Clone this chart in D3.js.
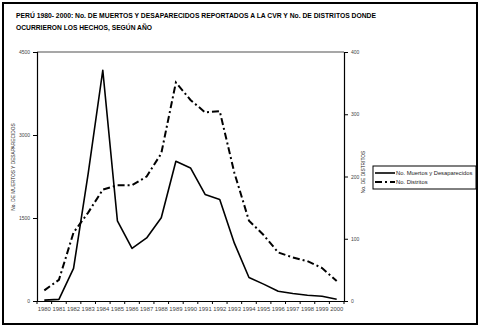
<!DOCTYPE html>
<html>
<head>
<meta charset="utf-8">
<script src="https://cdn.jsdelivr.net/npm/d3@7"></script>
<style>
  html, body { margin: 0; padding: 0; background: #fff; }
  svg text { font-family: "Liberation Sans", Arial, sans-serif; }
</style>
</head>
<body>
<svg id="chart" width="482" height="328"></svg>
<script>
// Años del periodo
const years = [1980, 1981, 1982, 1983, 1984, 1985, 1986, 1987, 1988, 1989, 1990,
               1991, 1992, 1993, 1994, 1995, 1996, 1997, 1998, 1999, 2000];
// No. de muertos y desaparecidos reportados a la CVR (eje izquierdo)
const muertos = [15, 30, 590, 2300, 4170, 1450, 950, 1140, 1505, 2525, 2405,
                 1925, 1835, 1045, 425, 305, 175, 135, 105, 85, 30];
// No. de distritos donde ocurrieron los hechos (eje derecho)
const distritos = [17, 34, 110, 142, 179, 186, 186, 200, 237, 351, 323,
                   303, 305, 206, 129, 106, 78, 70, 64, 53, 32];
const leftTicks = [0, 1500, 3000, 4500];
const rightTicks = [0, 100, 200, 300, 400];
const titleLines = [
  "PERÚ 1980- 2000: No. DE MUERTOS Y DESAPARECIDOS REPORTADOS A LA CVR Y No. DE DISTRITOS DONDE",
  "OCURRIERON LOS HECHOS, SEGÚN AÑO"
];
const seriesNames = ["No. Muertos y Desaparecidos", "No. Distritos"];

const svg = d3.select("#chart");
const plot = { left: 37, right: 344, top: 52, bottom: 301 };

// Marco exterior
svg.append("rect")
  .attr("x", 3).attr("y", 3).attr("width", 474).attr("height", 321)
  .attr("fill", "none").attr("stroke", "#000").attr("stroke-width", 2);

// Título
svg.append("text").attr("x", 16).attr("y", 18)
  .attr("font-size", 7.4).attr("font-weight", "bold")
  .attr("textLength", 360).attr("lengthAdjust", "spacingAndGlyphs")
  .text(titleLines[0]);
svg.append("text").attr("x", 16).attr("y", 30)
  .attr("font-size", 7.4).attr("font-weight", "bold")
  .attr("textLength", 136).attr("lengthAdjust", "spacingAndGlyphs")
  .text(titleLines[1]);

const x = d3.scaleBand().domain(years).range([plot.left, plot.right]);
const cx = d => x(d) + x.bandwidth() / 2;
const yL = d3.scaleLinear().domain([0, 4500]).range([plot.bottom, plot.top]);
const yR = d3.scaleLinear().domain([0, 400]).range([plot.bottom, plot.top]);

// Borde superior del área de trazado
svg.append("line")
  .attr("x1", plot.left).attr("x2", plot.right)
  .attr("y1", plot.top).attr("y2", plot.top)
  .attr("stroke", "#8a8a8a").attr("stroke-width", 1.5);

// Eje izquierdo
const gL = svg.append("g").attr("transform", `translate(${plot.left},0)`)
  .call(d3.axisLeft(yL).tickValues(leftTicks).tickFormat(d3.format("d"))
    .tickSizeOuter(0).tickSize(4).tickPadding(3));
// Eje derecho
const gR = svg.append("g").attr("transform", `translate(${plot.right},0)`)
  .call(d3.axisRight(yR).tickValues(rightTicks).tickFormat(d3.format("d"))
    .tickSizeOuter(0).tickSize(4).tickPadding(3));
[gL, gR].forEach(g => {
  g.select(".domain").attr("stroke", "#000").attr("stroke-width", 1.2);
  g.selectAll(".tick line").attr("stroke", "#000");
  g.selectAll(".tick text").attr("font-size", 5).attr("fill", "#444")
    .attr("font-family", "Liberation Sans, Arial, sans-serif");
});

// Eje inferior: etiquetas centradas, marcas entre categorías
const gB = svg.append("g").attr("transform", `translate(0,${plot.bottom})`)
  .call(d3.axisBottom(x).tickSize(0).tickPadding(6).tickSizeOuter(0));
gB.select(".domain").attr("stroke", "#000").attr("stroke-width", 1.2);
gB.selectAll(".tick text").attr("font-size", 5.9).attr("fill", "#444")
  .attr("font-family", "Liberation Sans, Arial, sans-serif");
const bounds = years.map(d => x(d)).concat([x(years[years.length - 1]) + x.bandwidth()]);
gB.selectAll("line.bt").data(bounds).enter().append("line")
  .attr("class", "bt")
  .attr("x1", d => d).attr("x2", d => d).attr("y1", 0).attr("y2", 3)
  .attr("stroke", "#000");

// Títulos de ejes
svg.append("text")
  .attr("transform", "translate(15,167) rotate(-90)")
  .attr("text-anchor", "middle").attr("font-size", 4.8).attr("fill", "#222")
  .text("No. DE MUERTOS Y DESAPARECIDOS");
svg.append("text")
  .attr("transform", "translate(365,172) rotate(-90)")
  .attr("text-anchor", "middle").attr("font-size", 4.8).attr("fill", "#222")
  .text("No. DE DISTRITOS");

// Series
const lineL = d3.line().x((d, i) => cx(years[i])).y(d => yL(d));
const lineR = d3.line().x((d, i) => cx(years[i])).y(d => yR(d));
svg.append("path").datum(muertos)
  .attr("d", lineL).attr("fill", "none").attr("stroke", "#000")
  .attr("stroke-width", 1.6).attr("stroke-linejoin", "round");
svg.append("path").datum(distritos)
  .attr("d", lineR).attr("fill", "none").attr("stroke", "#000")
  .attr("stroke-width", 2).attr("stroke-dasharray", "7,3,2,3");

// Leyenda
const lg = svg.append("g").attr("transform", "translate(373,166)");
lg.append("rect").attr("width", 103).attr("height", 23)
  .attr("fill", "#fff").attr("stroke", "#000").attr("stroke-width", 1);
const styles = [{ w: 1.6, dash: null }, { w: 2, dash: "7,3,2,3" }];
seriesNames.forEach((name, i) => {
  const yy = 7 + i * 9;
  lg.append("line").attr("x1", 2).attr("x2", 22).attr("y1", yy).attr("y2", yy)
    .attr("stroke", "#000").attr("stroke-width", styles[i].w)
    .attr("stroke-dasharray", styles[i].dash);
  lg.append("text").attr("x", 23).attr("y", yy + 2).attr("font-size", 5.8)
    .attr("fill", "#222").text(name);
});
</script>
</body>
</html>
